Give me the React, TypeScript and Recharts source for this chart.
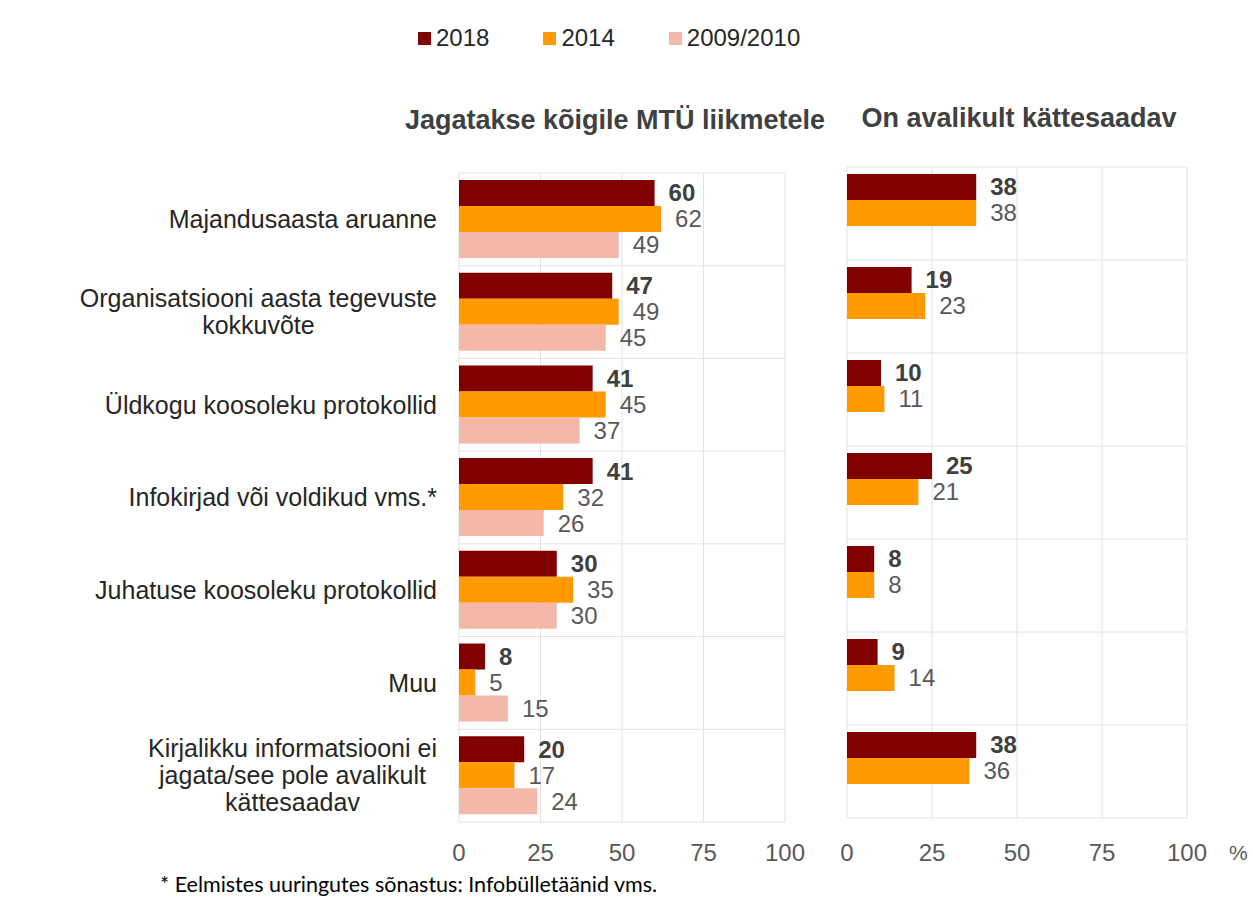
import { Bar, BarChart, CartesianGrid, LabelList, XAxis, YAxis } from "recharts";

const categories = [
  "Majandusaasta aruanne",
  "Organisatsiooni aasta tegevuste\nkokkuvõte",
  "Üldkogu koosoleku protokollid",
  "Infokirjad või voldikud vms.*",
  "Juhatuse koosoleku protokollid",
  "Muu",
  "Kirjalikku informatsiooni ei\njagata/see pole avalikult\nkättesaadav"
];

// Jagatakse kõigile MTÜ liikmetele
const shared2018 = [60, 47, 41, 41, 30, 8, 20];
const shared2014 = [62, 49, 45, 32, 35, 5, 17];
const shared2009 = [49, 45, 37, 26, 30, 15, 24];

// On avalikult kättesaadav (no 2009/2010 data)
const public2018 = [38, 19, 10, 25, 8, 9, 38];
const public2014 = [38, 23, 11, 21, 8, 14, 36];
const public2009: (number | null)[] = [null, null, null, null, null, null, null];

const xTicks = [0, 25, 50, 75, 100];

const series = [
  { key: "y2018", name: "2018", color: "#800000" },
  { key: "y2014", name: "2014", color: "#ff9a00" },
  { key: "y2009", name: "2009/2010", color: "#f4b8ab" }
];

const sharedData = categories.map((name, i) => ({
  name,
  y2018: shared2018[i],
  y2014: shared2014[i],
  y2009: shared2009[i]
}));

const publicData = categories.map((name, i) => ({
  name,
  y2018: public2018[i],
  y2014: public2014[i],
  y2009: public2009[i]
}));

const FONT = "'Liberation Sans', Arial, sans-serif";
const CAT_SIZE = 25;
const LINE_H = 27;

let ctx: CanvasRenderingContext2D | null = null;
function textWidth(s: string) {
  if (!ctx) ctx = document.createElement("canvas").getContext("2d");
  if (!ctx) return s.length * CAT_SIZE * 0.5;
  ctx.font = `${CAT_SIZE}px ${FONT}`;
  return ctx.measureText(s).width;
}

// right-aligned block, each line centred inside it
function CategoryTick(props: any) {
  const { x, y, payload } = props;
  const lines = String(payload.value).split("\n");
  const block = Math.max(...lines.map(textWidth));
  const cx = x - block / 2;
  const y0 = y - ((lines.length - 1) * LINE_H) / 2;
  return (
    <text x={cx} y={y0} textAnchor="middle" fontFamily={FONT} fontSize={CAT_SIZE} fill="#262626">
      {lines.map((line, i) => (
        <tspan key={i} x={cx} y={y0 + i * LINE_H} dy="0.35em">
          {line}
        </tspan>
      ))}
    </text>
  );
}

// horizontal grid on the band edges, not on the category centres
function bandLines({ offset }: any) {
  const out: number[] = [];
  for (let i = 0; i <= categories.length; i++) out.push(offset.top + (i * offset.height) / categories.length);
  return out;
}

function Panel({
  data,
  width,
  height,
  margin,
  axisWidth,
  tickMargin
}: {
  data: Record<string, string | number | null>[];
  width: number;
  height: number;
  margin: { top: number; right: number; bottom: number; left: number };
  axisWidth: number;
  tickMargin: number;
}) {
  return (
    <BarChart
      width={width}
      height={height}
      data={data}
      layout="vertical"
      margin={margin}
      barCategoryGap="7.5%"
      barGap={0}
    >
      <CartesianGrid stroke="#e2e2e2" horizontalCoordinatesGenerator={bandLines} />
      <XAxis
        type="number"
        domain={[0, 100]}
        ticks={xTicks}
        interval={0}
        axisLine={false}
        tickLine={false}
        tickSize={0}
        tickMargin={tickMargin}
        height={60}
        tick={{ fill: "#595959", fontSize: 24, fontFamily: FONT }}
      />
      <YAxis
        type="category"
        dataKey="name"
        hide={axisWidth === 0}
        width={axisWidth}
        axisLine={false}
        tickLine={false}
        tickSize={0}
        tickMargin={22}
        interval={0}
        tick={<CategoryTick />}
      />
      {series.map((s) => (
        <Bar key={s.key} dataKey={s.key} name={s.name} fill={s.color} isAnimationActive={false}>
          <LabelList
            dataKey={s.key}
            position="right"
            offset={14}
            fontFamily={FONT}
            fontSize={24}
            fontWeight={s.key === "y2018" ? "bold" : "normal"}
            fill={s.key === "y2018" ? "#404040" : "#595959"}
          />
        </Bar>
      ))}
    </BarChart>
  );
}

export default function App() {
  return (
    <div
      style={{
        position: "absolute",
        left: 0,
        top: 0,
        width: 1253,
        height: 898,
        background: "#fff",
        fontFamily: FONT,
        overflow: "hidden"
      }}
    >
      {/* legend */}
      <div style={{ position: "absolute", left: 418, top: 23, display: "flex", gap: 54, alignItems: "center" }}>
        {series.map((s) => (
          <div key={s.key} style={{ display: "flex", alignItems: "center", gap: 5 }}>
            <span style={{ width: 13, height: 13, background: s.color, display: "inline-block" }} />
            <span style={{ fontSize: 24, color: "#262626", lineHeight: "30px" }}>{s.name}</span>
          </div>
        ))}
      </div>

      <div
        style={{
          position: "absolute",
          left: 365,
          width: 500,
          top: 103,
          textAlign: "center",
          fontSize: 27,
          fontWeight: "bold",
          color: "#404040",
          lineHeight: "34px"
        }}
      >
        Jagatakse kõigile MTÜ liikmetele
      </div>
      <div
        style={{
          position: "absolute",
          left: 819,
          width: 400,
          top: 101,
          textAlign: "center",
          fontSize: 27,
          fontWeight: "bold",
          color: "#404040",
          lineHeight: "34px"
        }}
      >
        On avalikult kättesaadav
      </div>

      <div style={{ position: "absolute", left: 0, top: 0 }}>
        <Panel
          data={sharedData}
          width={820}
          height={882}
          margin={{ top: 173, right: 35, bottom: 0, left: 0 }}
          axisWidth={459}
          tickMargin={22}
        />
      </div>
      <div style={{ position: "absolute", left: 800, top: 0 }}>
        <Panel
          data={publicData}
          width={453}
          height={878}
          margin={{ top: 167, right: 66, bottom: 0, left: 47 }}
          axisWidth={0}
          tickMargin={26}
        />
      </div>

      <div style={{ position: "absolute", left: 1229, top: 839, fontSize: 21, color: "#595959", lineHeight: "28px" }}>
        %
      </div>

      <div
        style={{
          position: "absolute",
          left: 160,
          top: 870,
          fontFamily: "Lato, 'Open Sans', sans-serif",
          fontSize: 21.5,
          color: "#000",
          lineHeight: "28px"
        }}
      >
        * Eelmistes uuringutes sõnastus: Infobülletäänid vms.
      </div>
    </div>
  );
}
